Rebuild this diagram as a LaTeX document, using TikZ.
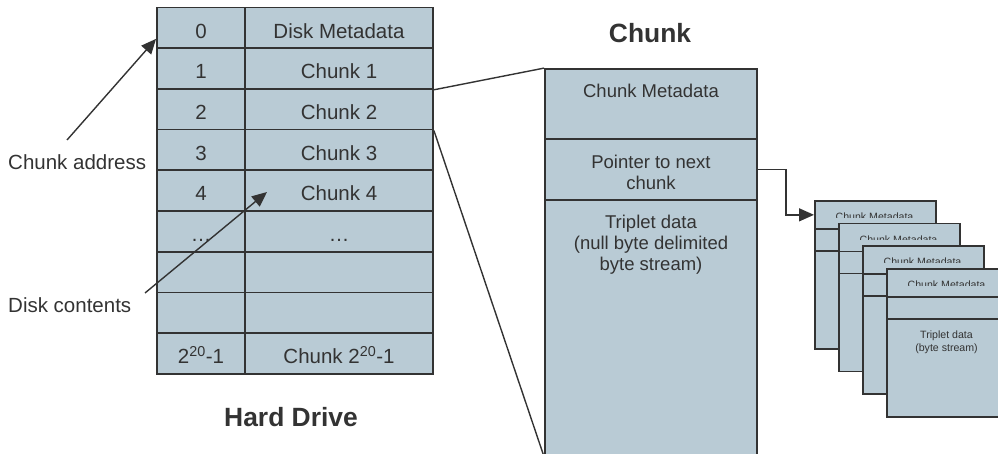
\documentclass[tikz,border=0pt]{standalone}
\usepackage{fontspec}
\setmainfont{Liberation Sans}
\usetikzlibrary{arrows.meta}
\definecolor{cellfill}{RGB}{185,203,213}
\definecolor{ink}{RGB}{51,51,51}

\begin{document}
\begin{tikzpicture}[x=1pt,y=-1pt,
  cell/.style={draw=ink, line width=1.8pt, fill=cellfill, inner sep=0pt,
    minimum height=40.7pt, text=ink, text height=20.6pt, text depth=0pt,
    font=\fontsize{20.5}{24}\selectfont},
  bigsec/.style={draw=ink, line width=1.8pt, fill=cellfill, inner sep=0pt,
    minimum width=212pt},
  bigtext/.style={text=ink, inner sep=0pt, align=center, anchor=base,
    font=\fontsize{18.5}{21.5}\selectfont},
  smallsec/.style={draw=ink, line width=1.7pt, fill=cellfill, inner sep=0pt,
    minimum width=121pt, anchor=north west},
  smalltext/.style={text=ink, inner sep=0pt, align=center, anchor=base,
    font=\fontsize{10.6}{12.2}\selectfont},
  label/.style={text=ink, inner sep=0pt, anchor=base west,
    font=\fontsize{20.5}{24}\selectfont},
  heading/.style={text=ink, inner sep=0pt, anchor=base,
    font=\fontsize{26.4}{30}\selectfont\bfseries},
  conn/.style={draw=ink, line width=1.4pt},
  tip/.style={-{Triangle[length=15pt,width=13pt]}}
]
\useasboundingbox (0,0) rectangle (998,454);
\clip (0,0) rectangle (998,454);

% hard drive table: address column (l) and contents column (r)
\foreach \i/\a/\b in {0/0/{Disk Metadata},1/1/{Chunk 1},2/2/{Chunk 2},
    3/3/{Chunk 3},4/4/{Chunk 4},5/{\dots}/{\dots},6//,7//,
    8/{2\textsuperscript{20}-1}/{Chunk 2\textsuperscript{20}-1}}{
  \node[cell, minimum width=88pt]  (l\i) at (201, 27.85+40.7*\i) {\a};
  \node[cell, minimum width=188pt] (r\i) at (339, 27.85+40.7*\i) {\b};
}

\node[heading] (hdd) at (291,426) {Hard Drive};
\node[heading] (chk) at (650,43) {Chunk};

% side labels with their arrows
\node[label] (caddr) at (8,170) {Chunk address};
\node[label] (dcont) at (8,312) {Disk contents};
\coordinate (caStart) at (67,140);
\coordinate (dcStart) at (145,293);
\coordinate (dcTip) at (267,192);
\draw[conn, tip] (caStart) -- ([yshift=-11pt]l0.west);
\draw[conn, tip] (dcStart) -- (dcTip);

% expanded chunk (multi-line texts are placed by their last baseline)
\node[bigsec, minimum height=70pt]  (bmeta) at (651,104) {};
\node[bigsec, minimum height=61pt]  (bptr)  at (651,169.5) {};
\node[bigsec, minimum height=256pt] (bdata) at (651,328) {};
\node[bigtext] at (651,98) {Chunk Metadata};
\node[bigtext] at (651,190) {Pointer to next\\chunk};
\node[bigtext] at (651,271) {Triplet data\\(null byte delimited\\byte stream)};

% zoom lines from chunk 2 to its expanded view
\draw[conn] (r1.south east) -- (bmeta.north west);
\draw[conn] (r2.south east) -- (bdata.south west);

% linked list of following chunks, each one stacked over the previous
\foreach \k in {0,1,2,3}{
  \pgfmathsetmacro{\bx}{814+24*\k}
  \pgfmathsetmacro{\by}{200+22.67*\k}
  \node[smallsec, minimum height=28pt] (s\k meta) at (\bx,\by) {};
  \node[smallsec, minimum height=22pt] (s\k ptr)  at (\bx,\by+28) {};
  \node[smallsec, minimum height=98pt] (s\k data) at (\bx,\by+50) {};
  \begin{scope}
    \clip (\bx,\by) rectangle (\bx+121,\by+17.2);
    \node[smalltext] at (\bx+60.5,\by+20.5) {Chunk Metadata};
  \end{scope}
}
\node[smalltext] at ([xshift=60.5pt,yshift=-33pt]s3data.north west)
  {Triplet data\\(byte stream)};

\draw[conn, tip] (bptr.east) -- ++(28,0) |- (s0meta.west);
\end{tikzpicture}
\end{document}
